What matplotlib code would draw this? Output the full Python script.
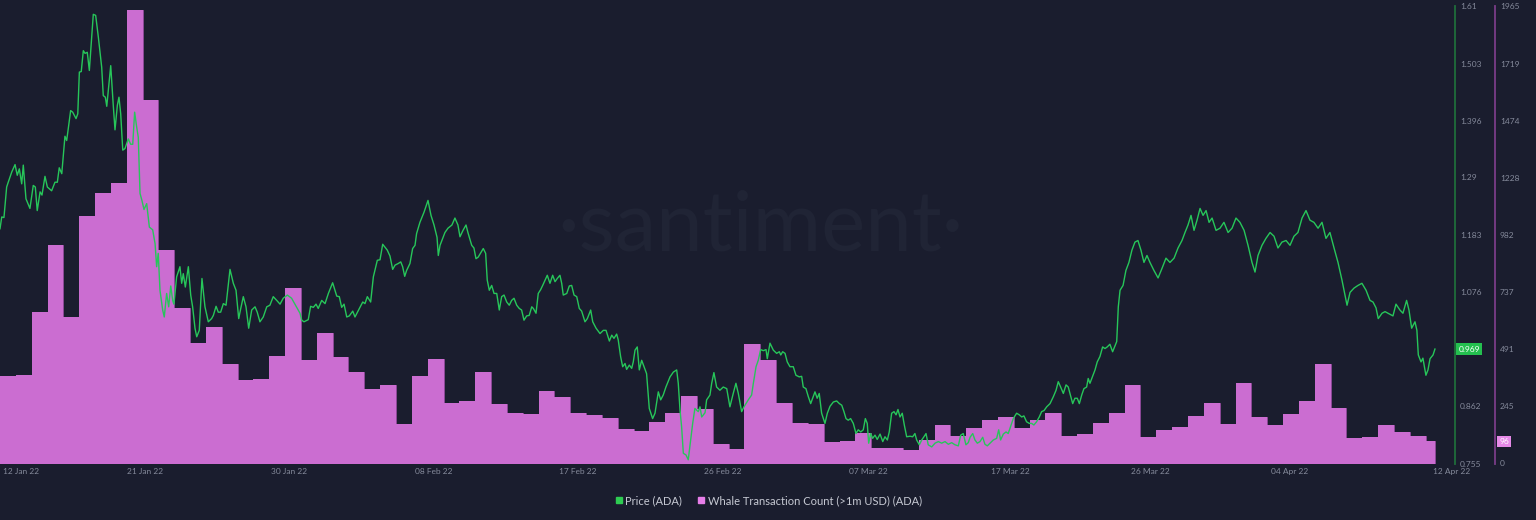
import numpy as np
import matplotlib
matplotlib.use("Agg")
import matplotlib.pyplot as plt
import matplotlib.transforms as mtransforms
from matplotlib.lines import Line2D

# Daily whale transaction count (>1m USD), one bar per day starting 12 Jan 22
whale_counts = [
    375, 382, 653, 937, 631, 1064, 1161, 1205, 1947, 1563,
    919, 669, 516, 586, 427, 361, 362, 464, 755, 445,
    561, 458, 394, 320, 337, 170, 378, 448, 260, 269,
    392, 256, 215, 214, 313, 286, 218, 209, 196, 149,
    139, 180, 218, 292, 234, 83, 63, 513, 445, 260,
    172, 170, 94, 97, 131, 67, 67, 60, 102, 166,
    119, 153, 189, 198, 151, 189, 216, 118, 128, 176,
    215, 337, 116, 144, 159, 205, 259, 169, 346, 201,
    166, 211, 268, 427, 238, 109, 113, 167, 134, 119,
    96,
]
# the last day is still running, so its bar is only part of a day wide
last_day_fraction = 0.57

# Price (ADA), time in days since 12 Jan 22 00:00
price_t = [
    0.00, 0.11, 0.25, 0.42, 0.52, 0.74, 0.95, 1.09, 1.22, 1.37, 1.47, 1.64, 1.89, 2.10, 2.23, 2.35,
    2.53, 2.65, 2.84, 2.99, 3.26, 3.47, 3.62, 3.74, 3.90, 4.10, 4.21, 4.46, 4.59, 4.80, 4.91, 5.01,
    5.13, 5.26, 5.37, 5.51, 5.64, 5.89, 6.04, 6.21, 6.42, 6.52, 6.65, 6.74, 6.99, 7.15, 7.26, 7.41,
    7.51, 7.62, 7.75, 7.89, 8.10, 8.25, 8.38, 8.50, 8.63, 8.73, 8.84, 8.96, 9.09, 9.26, 9.43, 9.64,
    9.79, 9.89, 9.99, 10.10, 10.27, 10.37, 10.52, 10.65, 10.78, 10.90, 10.98, 11.15, 11.36, 11.47,
    11.57, 11.70, 11.89, 12.04, 12.16, 12.31, 12.42, 12.58, 12.75, 12.94, 13.15, 13.36, 13.47, 13.64,
    13.78, 13.93, 14.10, 14.27, 14.52, 14.73, 14.90, 15.07, 15.20, 15.36, 15.53, 15.70, 15.89, 16.10,
    16.24, 16.41, 16.62, 16.84, 17.04, 17.25, 17.47, 17.68, 17.88, 18.14, 18.41, 18.62, 18.94, 19.05,
    19.19, 19.46, 19.61, 19.78, 19.95, 20.09, 20.31, 20.52, 20.73, 21.00, 21.26, 21.42, 21.57, 21.72,
    21.89, 22.05, 22.27, 22.41, 22.73, 22.90, 23.04, 23.19, 23.40, 23.57, 23.82, 23.99, 24.16, 24.45,
    24.62, 24.79, 24.94, 25.14, 25.30, 25.42, 25.55, 25.67, 25.88, 26.05, 26.20, 26.30, 26.51, 26.77,
    27.02, 27.21, 27.40, 27.59, 27.67, 27.78, 27.95, 28.09, 28.28, 28.53, 28.72, 28.91, 29.04, 29.23,
    29.42, 29.54, 29.78, 29.92, 30.05, 30.19, 30.51, 30.66, 30.76, 30.89, 31.04, 31.19, 31.36, 31.52,
    31.67, 31.82, 31.99, 32.15, 32.30, 32.45, 32.62, 32.78, 32.93, 33.08, 33.25, 33.41, 33.57, 33.67,
    33.84, 33.98, 34.13, 34.26, 34.41, 34.55, 34.72, 34.89, 35.04, 35.18, 35.35, 35.46, 35.56, 35.78,
    35.94, 36.09, 36.24, 36.41, 36.57, 36.72, 36.93, 37.08, 37.29, 37.42, 37.63, 37.88, 38.09, 38.26,
    38.47, 38.62, 38.76, 38.93, 39.03, 39.18, 39.31, 39.46, 39.56, 39.73, 39.88, 39.98, 40.09, 40.23,
    40.36, 40.51, 40.66, 40.82, 40.99, 41.20, 41.35, 41.56, 41.71, 41.87, 42.04, 42.30, 42.51, 42.72,
    42.82, 42.93, 43.03, 43.14, 43.31, 43.45, 43.60, 43.73, 43.87, 44.08, 44.19, 44.30, 44.51, 44.61,
    44.82, 44.93, 45.07, 45.24, 45.45, 45.66, 45.88, 46.08, 46.29, 46.46, 46.61, 46.82, 46.97, 47.24,
    47.45, 47.56, 47.73, 47.87, 48.02, 48.19, 48.36, 48.44, 48.61, 48.82, 49.03, 49.20, 49.29, 49.41,
    49.56, 49.70, 49.87, 50.08, 50.25, 50.46, 50.61, 50.71, 50.88, 51.03, 51.18, 51.34, 51.45, 51.59,
    51.72, 51.87, 52.08, 52.23, 52.40, 52.61, 52.82, 52.99, 53.14, 53.28, 53.41, 53.55, 53.70, 53.87,
    54.04, 54.18, 54.34, 54.50, 54.63, 54.75, 54.84, 54.97, 55.09, 55.24, 55.38, 55.56, 55.73, 55.87,
    56.02, 56.14, 56.29, 56.44, 56.57, 56.69, 56.82, 56.96, 57.09, 57.24, 57.45, 57.62, 57.76, 57.87,
    58.04, 58.19, 58.33, 58.46, 58.60, 58.82, 59.03, 59.24, 59.45, 59.66, 59.87, 60.08, 60.29, 60.50,
    60.65, 60.81, 60.98, 61.13, 61.24, 61.41, 61.55, 61.70, 61.87, 62.04, 62.18, 62.33, 62.50, 62.71,
    62.92, 63.05, 63.17, 63.34, 63.51, 63.65, 63.80, 63.97, 64.18, 64.35, 64.50, 64.64, 64.81, 64.98,
    65.13, 65.27, 65.44, 65.61, 65.76, 65.91, 66.08, 66.29, 66.50, 66.67, 66.81, 66.96, 67.13, 67.30,
    67.44, 67.55, 67.72, 67.86, 68.01, 68.14, 68.29, 68.43, 68.60, 68.70, 68.81, 68.98, 69.13, 69.27,
    69.44, 69.61, 69.76, 69.90, 70.07, 70.24, 70.39, 70.50, 70.60, 70.71, 70.90, 71.08, 71.27, 71.46,
    71.65, 71.84, 72.03, 72.22, 72.41, 72.60, 72.85, 73.11, 73.36, 73.61, 73.86, 74.12, 74.37, 74.62,
    74.81, 75.00, 75.19, 75.38, 75.57, 75.76, 75.95, 76.14, 76.33, 76.52, 76.77, 77.02, 77.27, 77.53,
    77.78, 78.03, 78.28, 78.54, 78.79, 79.04, 79.23, 79.42, 79.67, 79.92, 80.18, 80.43, 80.68, 80.93,
    81.19, 81.44, 81.69, 81.94, 82.20, 82.45, 82.70, 82.95, 83.21, 83.46, 83.71, 83.96, 84.22, 84.47,
    84.72, 84.91, 85.04, 85.23, 85.48, 85.73, 85.98, 86.24, 86.49, 86.68, 86.87, 87.01, 87.25, 87.44,
    87.75, 87.94, 88.13, 88.38, 88.57, 88.80, 88.95, 89.12, 89.33, 89.45, 89.54, 89.71, 89.83, 90.02,
    90.15, 90.28, 90.47, 90.59,
]
price_ada = [
    1.194, 1.216, 1.215, 1.272, 1.281, 1.300, 1.314, 1.294, 1.306, 1.278, 1.313, 1.250, 1.232, 1.275, 1.272, 1.228,
    1.263, 1.257, 1.292, 1.272, 1.265, 1.281, 1.281, 1.308, 1.297, 1.367, 1.359, 1.415, 1.412, 1.400, 1.409, 1.487,
    1.488, 1.527, 1.522, 1.524, 1.490, 1.595, 1.593, 1.552, 1.496, 1.443, 1.440, 1.423, 1.499, 1.425, 1.379, 1.425,
    1.440, 1.409, 1.341, 1.344, 1.362, 1.352, 1.352, 1.412, 1.384, 1.365, 1.260, 1.247, 1.230, 1.241, 1.197, 1.192,
    1.166, 1.123, 1.148, 1.079, 1.042, 1.029, 1.073, 1.048, 1.087, 1.060, 1.053, 1.104, 1.123, 1.092,
    1.110, 1.085, 1.123, 1.070, 1.048, 1.008, 0.992, 1.004, 1.101, 1.048, 1.020, 1.026, 1.032, 1.049,
    1.038, 1.038, 1.054, 1.051, 1.118, 1.092, 1.079, 1.026, 1.045, 1.067, 1.048, 1.008, 1.042, 1.048,
    1.038, 1.020, 1.029, 1.048, 1.051, 1.067, 1.060, 1.053, 1.064, 1.070, 1.064, 1.053, 1.036, 1.023,
    1.020, 1.024, 1.049, 1.047, 1.053, 1.045, 1.060, 1.054, 1.073, 1.093, 1.068, 1.067, 1.047, 1.053,
    1.029, 1.031, 1.040, 1.029, 1.047, 1.057, 1.054, 1.067, 1.057, 1.104, 1.135, 1.136, 1.165, 1.154,
    1.143, 1.118, 1.126, 1.129, 1.132, 1.123, 1.105, 1.116, 1.129, 1.157, 1.163, 1.185, 1.206, 1.225,
    1.247, 1.219, 1.201, 1.178, 1.144, 1.163, 1.176, 1.187, 1.195, 1.201, 1.214, 1.201, 1.179, 1.191,
    1.201, 1.187, 1.163, 1.158, 1.138, 1.141, 1.157, 1.148, 1.098, 1.079, 1.088, 1.073, 1.073, 1.042,
    1.067, 1.070, 1.057, 1.051, 1.060, 1.064, 1.051, 1.045, 1.042, 1.023, 1.031, 1.032, 1.048, 1.045,
    1.036, 1.073, 1.080, 1.088, 1.098, 1.107, 1.092, 1.107, 1.095, 1.101, 1.107, 1.092, 1.070, 1.073,
    1.087, 1.088, 1.070, 1.067, 1.045, 1.040, 1.020, 1.026, 1.042, 1.020, 1.008, 0.998, 1.004, 1.004,
    0.984, 0.995, 0.989, 0.997, 0.986, 0.955, 0.936, 0.942, 0.931, 0.939, 0.933, 0.945, 0.967, 0.973,
    0.930, 0.948, 0.936, 0.923, 0.858, 0.839, 0.849, 0.889, 0.874, 0.883, 0.898, 0.917, 0.926, 0.930,
    0.905, 0.855, 0.824, 0.774, 0.771, 0.762, 0.799, 0.830, 0.858, 0.852, 0.861, 0.842, 0.850, 0.874,
    0.883, 0.905, 0.925, 0.898, 0.892, 0.898, 0.895, 0.861, 0.886, 0.905, 0.886, 0.852, 0.861, 0.874,
    0.883, 0.905, 0.936, 0.948, 0.968, 0.966, 0.968, 0.951, 0.980, 0.967, 0.961, 0.964, 0.958, 0.964,
    0.961, 0.945, 0.936, 0.936, 0.920, 0.917, 0.918, 0.898, 0.895, 0.880, 0.867, 0.880, 0.889, 0.877,
    0.886, 0.849, 0.830, 0.849, 0.862, 0.870, 0.872, 0.867, 0.864, 0.852, 0.839, 0.836, 0.839, 0.830,
    0.811, 0.818, 0.814, 0.818, 0.839, 0.830, 0.793, 0.811, 0.802, 0.808, 0.800, 0.810, 0.796, 0.805,
    0.799, 0.814, 0.849, 0.852, 0.846, 0.856, 0.842, 0.849, 0.827, 0.805, 0.806, 0.805, 0.811, 0.799,
    0.790, 0.799, 0.805, 0.811, 0.790, 0.786, 0.793, 0.796, 0.793, 0.796, 0.791, 0.794, 0.790, 0.788,
    0.808, 0.811, 0.790, 0.794, 0.804, 0.811, 0.799, 0.793, 0.796, 0.804, 0.791, 0.788, 0.793, 0.799,
    0.802, 0.818, 0.799, 0.810, 0.814, 0.811, 0.824, 0.839, 0.849, 0.846, 0.842, 0.844, 0.833, 0.830,
    0.830, 0.827, 0.833, 0.842, 0.852, 0.854, 0.861, 0.867, 0.880, 0.892, 0.908, 0.898, 0.886, 0.902,
    0.898, 0.886, 0.867, 0.877, 0.877, 0.867, 0.883, 0.895, 0.898, 0.914, 0.905, 0.918, 0.930, 0.945,
    0.955, 0.973, 0.970, 0.973, 0.978, 0.964, 0.975, 0.983, 1.048, 1.079, 1.088, 1.116, 1.131, 1.154,
    1.169, 1.172, 1.154, 1.131, 1.144, 1.131, 1.116, 1.102, 1.120, 1.139, 1.131, 1.139, 1.158, 1.172,
    1.187, 1.201, 1.219, 1.191, 1.210, 1.232, 1.219, 1.228, 1.206, 1.214, 1.191, 1.195, 1.206, 1.187,
    1.195, 1.214, 1.206, 1.191, 1.163, 1.131, 1.113, 1.144, 1.163, 1.176, 1.187, 1.180, 1.158, 1.169,
    1.172, 1.163, 1.180, 1.187, 1.214, 1.228, 1.210, 1.206, 1.195, 1.206, 1.176, 1.187, 1.158, 1.131,
    1.098, 1.070, 1.051, 1.075, 1.083, 1.088, 1.092, 1.079, 1.060, 1.057, 1.046, 1.026, 1.036, 1.039,
    1.034, 1.031, 1.053, 1.042, 1.036, 1.060, 1.042, 1.008, 1.020, 1.004, 0.958, 0.945, 0.952, 0.920,
    0.930, 0.951, 0.958, 0.969,
]

# x axis tick labels (positions in days since 12 Jan 22)
tick_days = [1.36, 9.15, 18.25, 27.4, 36.5, 45.6, 54.8, 63.8, 72.6, 81.4, 91.65]
tick_labels = ["12 Jan 22", "21 Jan 22", "30 Jan 22", "08 Feb 22", "17 Feb 22", "26 Feb 22",
               "07 Mar 22", "17 Mar 22", "26 Mar 22", "04 Apr 22", "12 Apr 22"]

price_ticks = [0.755, 0.862, 0.969, 1.076, 1.183, 1.29, 1.396, 1.503, 1.61]
count_ticks = [0, 245, 491, 737, 982, 1228, 1474, 1719, 1965]

BG = "#1a1d2e"
GREEN = "#27c65a"
PINK = "#bb5fc3"
TICK_COLOR = "#858a9b"


def draw_bars(ax):
    """
    Draws the daily whale transaction count as step-like bars with a striped texture.
    """
    n = len(whale_counts)
    x = np.arange(n)
    widths = np.ones(n)
    widths[-1] = last_day_fraction
    ax.bar(x, whale_counts, width=widths, align="edge", color=PINK,
           edgecolor="#8c4896", linewidth=0.7, zorder=1)
    # thin vertical stripes on top of the fill
    ax.bar(x, whale_counts, width=widths, align="edge", color="none",
           edgecolor="#cb6dd1", linewidth=0, hatch="|" * 33, zorder=1.5)


def style_right_axis(ax, ticks, color, outward, fmt):
    ax.yaxis.tick_right()
    ax.spines["right"].set_position(("outward", outward))
    ax.spines["right"].set_color(color)
    ax.spines["right"].set_linewidth(1.3)
    for s in ["left", "top", "bottom"]:
        ax.spines[s].set_visible(False)
    ax.set_yticks(ticks)
    ax.set_yticklabels([fmt(v) for v in ticks])
    ax.tick_params(axis="y", length=0, pad=3.6, labelsize=6, labelcolor=TICK_COLOR)


if __name__ == "__main__":
    plt.rcParams["font.family"] = ["Lato", "DejaVu Sans"]
    plt.rcParams["hatch.linewidth"] = 0.5

    fig = plt.figure(figsize=(15.36, 5.2), dpi=100, facecolor=BG)
    W, H = 1536.0, 520.0
    left, right, top, bottom = 0.0, 1455.0, 6.3, 463.5
    ax = fig.add_axes([left / W, 1 - bottom / H, (right - left) / W, (bottom - top) / H])
    ax.set_facecolor(BG)

    # watermark
    ax.text(760 / W, 1 - 250 / H, "\u00b7santiment\u00b7", transform=fig.transFigure,
            ha="center", va="baseline", fontsize=60, fontweight="normal",
            color="#202435", zorder=0)

    draw_bars(ax)
    ax.set_xlim(0, right / 15.84)
    ax.set_ylim(0, 1965)

    ax2 = ax.twinx()
    ax2.plot(price_t, price_ada, color=GREEN, linewidth=1.0, zorder=3)
    ax2.set_ylim(0.755, 1.61)
    # twinx moves the first axis' ticks to the left, so style both afterwards
    style_right_axis(ax, count_ticks, "#7a3d88", 28.8, lambda v: f"{v:d}")
    style_right_axis(ax2, price_ticks, "#1f6d3b", 0, lambda v: f"{v:g}")

    ax.set_xticks(tick_days)
    ax.set_xticklabels(tick_labels)
    ax.tick_params(axis="x", length=0, pad=3, labelsize=6, labelcolor=TICK_COLOR)

    # current value boxes on the two right axes
    trans2 = mtransforms.blended_transform_factory(ax2.transAxes, ax2.transData)
    ax2.text(1 + 3.5 / right, price_ada[-1], f"{price_ada[-1]:.3f}", transform=trans2,
             ha="left", va="center", fontsize=6, color="white", zorder=5,
             bbox=dict(boxstyle="square,pad=0.25", fc="#24c04f", ec="none"))
    trans1 = mtransforms.blended_transform_factory(ax.transAxes, ax.transData)
    ax.text(1 + 44.5 / right, whale_counts[-1], f"{whale_counts[-1]}", transform=trans1,
            ha="left", va="center", fontsize=6, color="white", zorder=5,
            bbox=dict(boxstyle="square,pad=0.25", fc="#e68ae8", ec="none"))

    handles = [
        Line2D([], [], marker="s", linestyle="none", color="#2ecc52", markersize=5),
        Line2D([], [], marker="s", linestyle="none", color="#e77ee9", markersize=5),
    ]
    fig.legend(handles, ["Price (ADA)", "Whale Transaction Count (>1m USD) (ADA)"],
               loc="center", bbox_to_anchor=(0.5, 1 - 500.5 / H), ncol=2, frameon=False,
               fontsize=8, labelcolor="#c6c9d3", handletextpad=0.2, columnspacing=1.3,
               handlelength=0.8)

    fig.savefig("out.png", dpi=100, facecolor=BG)
